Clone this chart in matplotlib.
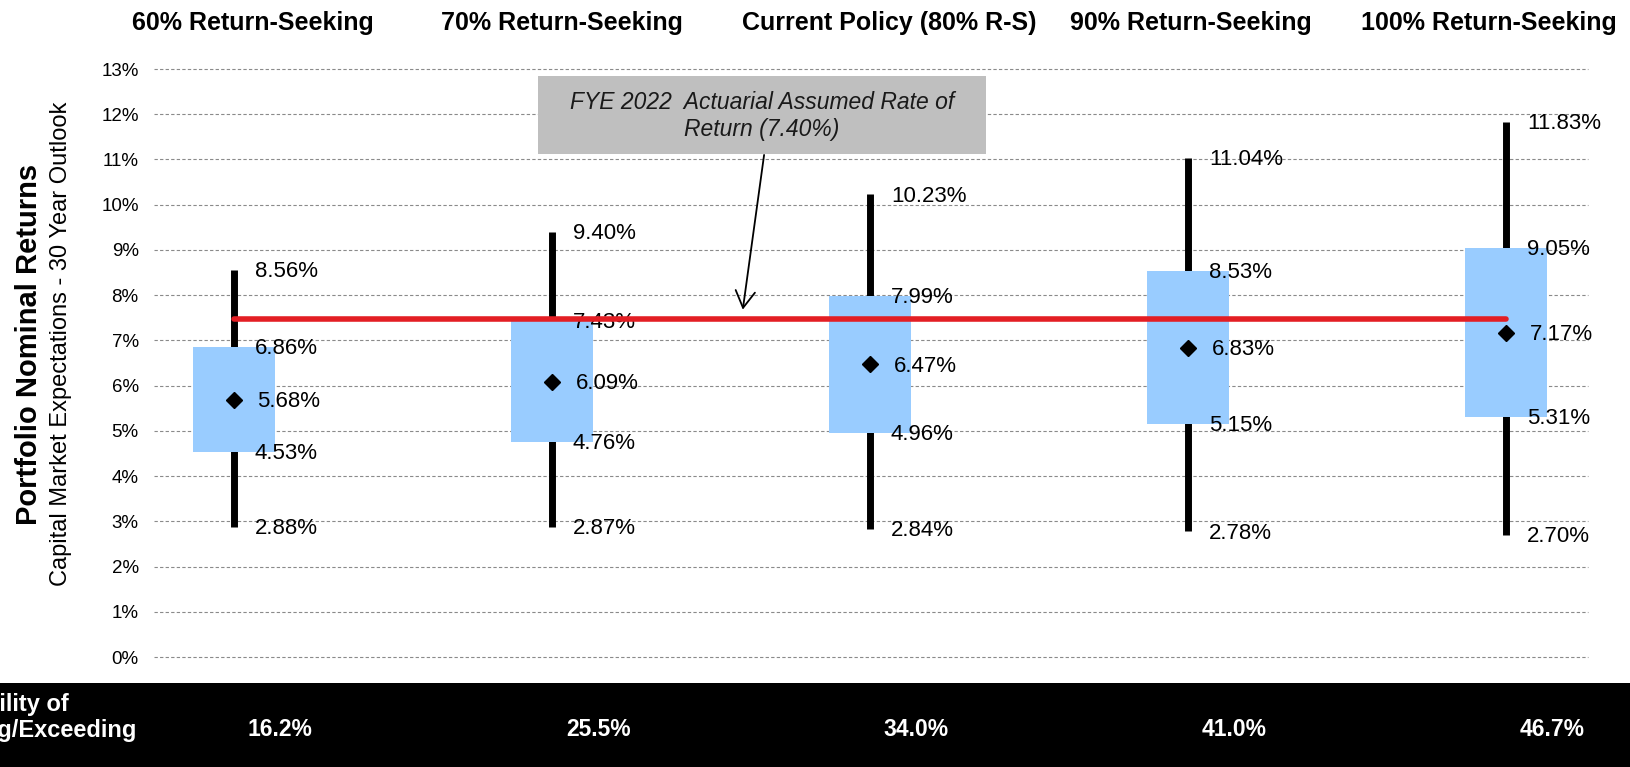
import matplotlib
matplotlib.use("Agg")
import matplotlib.pyplot as plt
from matplotlib.patches import Rectangle
from matplotlib import font_manager

# ---------------- data ----------------
categories = ["60% Return-Seeking", "70% Return-Seeking", "Current Policy (80% R-S)",
              "90% Return-Seeking", "100% Return-Seeking"]
p95 = [8.56, 9.40, 10.23, 11.04, 11.83]
p75 = [6.86, 7.43, 7.99, 8.53, 9.05]
median = [5.68, 6.09, 6.47, 6.83, 7.17]
p25 = [4.53, 4.76, 4.96, 5.15, 5.31]
p5 = [2.88, 2.87, 2.84, 2.78, 2.70]
prob_exceed = [16.2, 25.5, 34.0, 41.0, 46.7]
assumed_rate_line = 7.47   # level of the red line as drawn in the chart
y_ticks = list(range(0, 14))
ylabel_main = "Portfolio Nominal Returns"
ylabel_sub = "Capital Market Expectations - 30 Year Outlook"
annot_text = "FYE 2022  Actuarial Assumed Rate of\nReturn (7.40%)"
band_label = ["Probability of", "Achieving/Exceeding"]

# ---------------- fonts ----------------
avail = {f.name for f in font_manager.fontManager.ttflist}
NARROW = ["Liberation Sans Narrow", "Liberation Sans"] if "Liberation Sans Narrow" in avail else ["Liberation Sans"]
SANS = ["Liberation Sans", "DejaVu Sans"]
plt.rcParams["font.family"] = SANS

W, H = 1630, 767
fig = plt.figure(figsize=(W / 100, H / 100), dpi=100)
ax = fig.add_axes([154 / W, 1 - 657 / H, (1588 - 154) / W, (657 - 69) / H])

x = list(range(len(categories)))
ax.set_xlim(-0.2516, 4.258)
ax.set_ylim(0, 13)

# gridlines
for t in y_ticks:
    ax.axhline(t, color="#8a8a8a", lw=0.8, ls=(0, (3.0, 2.0)), zorder=1, clip_on=False)

# whiskers
ax.vlines(x, p5, p95, color="black", lw=5, zorder=2)
# boxes
ax.bar(x, [a - b for a, b in zip(p75, p25)], bottom=p25, width=0.255,
       color="#99CCFF", edgecolor="none", zorder=3)
# median diamonds
ax.plot(x, median, ls="none", marker="D", ms=8.5, color="black", zorder=4)

# assumed-rate line
ax.plot([x[0], x[-1]], [assumed_rate_line, assumed_rate_line], color="#E31E24", lw=4,
        solid_capstyle="round", zorder=7)

# value labels
for xi, a, b, m, c, d in zip(x, p95, p75, median, p25, p5):
    for v in (a, b, c, d):
        ax.text(xi + 0.066, v - 0.04, f"{v:.2f}%", fontsize=16, va="center", ha="left", zorder=6)
    ax.text(xi + 0.074, m - 0.04, f"{m:.2f}%", fontsize=16, va="center", ha="left", zorder=6)

# ticks
ax.set_yticks(y_ticks)
ax.set_yticklabels([f"{t}%" for t in y_ticks], fontsize=13.5)
ax.set_xticks([])
ax.tick_params(axis="y", length=0, pad=11)
for s in ax.spines.values():
    s.set_visible(False)

# annotation box + arrow
ax.add_patch(Rectangle((0.956, 11.12), 2.365 - 0.956, 12.85 - 11.12,
                       facecolor="#BFBFBF", edgecolor="none", zorder=5, clip_on=False))
ax.text((0.956 + 2.365) / 2, 11.96, annot_text, fontsize=16.5, style="italic",
        ha="center", va="center", linespacing=1.25, zorder=6, color="#1a1a1a")
ax.annotate("", xy=(1.60, 7.68), xytext=(1.667, 11.10),
            arrowprops=dict(arrowstyle="->,head_length=0.6,head_width=0.35",
                            lw=1.3, color="black", mutation_scale=20,
                            shrinkA=0, shrinkB=0), zorder=6)

# column headers
hdr_off = [0.06, 0.03, 0.06, 0.01, -0.055]
for xi, name, o in zip(x, categories, hdr_off):
    xf = fig.transFigure.inverted().transform(ax.transData.transform((xi + o, 0)))[0]
    fig.text(xf, 1 - 23 / H, name, family=NARROW, fontweight="bold", fontsize=18,
             ha="center", va="center")

# y labels
fig.text(29 / W, 1 - 344 / H, ylabel_main, rotation=90, fontsize=21, fontweight="bold",
         ha="center", va="center")
fig.text(61 / W, 1 - 344 / H, ylabel_sub, rotation=90, fontsize=17,
         ha="center", va="center")

# bottom band
fig.patches.append(Rectangle((0, 0), 1, (H - 683) / H, transform=fig.transFigure,
                             facecolor="black", edgecolor="none", zorder=0))
fig.text(69 / W, 1 - 705 / H, band_label[0], family=NARROW, fontweight="bold",
         fontsize=17, color="white", ha="right", va="center")
fig.text(137 / W, 1 - 730 / H, band_label[1], family=NARROW, fontweight="bold",
         fontsize=17, color="white", ha="right", va="center")
for xi, p in zip(x, prob_exceed):
    xf = fig.transFigure.inverted().transform(ax.transData.transform((xi + 0.145, 0)))[0]
    fig.text(xf, 1 - 730 / H, f"{p:.1f}%", family=NARROW, fontweight="bold",
             fontsize=16.5, color="white", ha="center", va="center")

fig.savefig("out.png", dpi=100)
